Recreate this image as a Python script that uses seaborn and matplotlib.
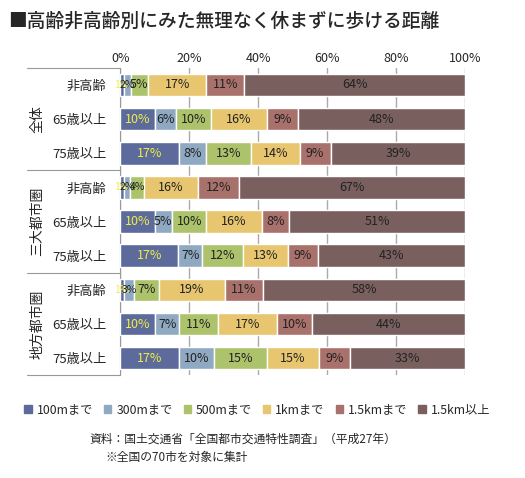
import numpy as np
import pandas as pd
import matplotlib.pyplot as plt
import seaborn as sns

sns.set_style("white")
plt.rcParams['font.family'] = ['Noto Sans CJK JP', 'DejaVu Sans']

groups = ['全体', '三大都市圏', '地方都市圏']
ages = ['非高齢', '65歳以上', '75歳以上']
bands = ['100mまで', '300mまで', '500mまで', '1kmまで', '1.5kmまで', '1.5km以上']
colors = ['#5d6b9c', '#8fa9c2', '#adc36b', '#e8c66f', '#a9716b', '#7a5f5f']
text_colors = ['#f2ee40', '#222222', '#222222', '#222222', '#222222', '#222222']

values = [
    [1, 2, 5, 17, 11, 64],
    [10, 6, 10, 16, 9, 48],
    [17, 8, 13, 14, 9, 39],
    [1, 2, 4, 16, 12, 67],
    [10, 5, 10, 16, 8, 51],
    [17, 7, 12, 13, 9, 43],
    [1, 3, 7, 19, 11, 58],
    [10, 7, 11, 17, 10, 44],
    [17, 10, 15, 15, 9, 33],
]

rows = []
for i, v in enumerate(values):
    for b, x in zip(bands, v):
        rows.append({'row': i, 'band': b, 'value': x})
df = pd.DataFrame(rows)

fig = plt.figure(figsize=(5.25, 4.78), dpi=100)
ax = fig.add_axes([0.229, 0.215, 0.657, 0.643])

left = np.zeros(len(values))
for j, b in enumerate(bands):
    sub = df[df.band == b].sort_values('row')
    w = sub.value.values / np.array([sum(v) for v in values]) * 100
    ax.barh(sub.row.values, w, left=left, height=0.66, color=colors[j], zorder=3)
    for r, (lv, wv, tv) in enumerate(zip(left, w, sub.value.values)):
        fs = 9 if wv >= 4 else 7.5
        ax.text(lv + wv / 2, r, f'{tv}%', ha='center', va='center', fontsize=fs,
                color=text_colors[j], zorder=4)
    left += w

ax.set_xlim(0, 100)
ax.set_ylim(8.5, -0.5)
ax.xaxis.tick_top()
ax.set_xticks(range(0, 101, 20))
ax.set_xticklabels([f'{t}%' for t in range(0, 101, 20)], fontsize=9)
ax.set_yticks(range(9))
ax.set_yticklabels(ages * 3, fontsize=9.5)
ax.tick_params(axis='y', length=0, pad=10)
ax.tick_params(axis='x', length=0, pad=2)
ax.grid(axis='x', color='#aaaaaa', lw=1, zorder=0)
for s in ['right', 'bottom', 'top']:
    ax.spines[s].set_visible(False)
ax.spines['left'].set_color('#999999')

for g, name in enumerate(groups):
    ax.text(-24, g * 3 + 1, name, rotation=90, ha='center', va='center', fontsize=10,
            transform=ax.transData, clip_on=False)
for y in [-0.5, 2.5, 5.5, 8.5]:
    ax.plot([-27, 0], [y, y], color='#999999', lw=0.8, clip_on=False)

fig.text(0.015, 0.955, '■高齢非高齢別にみた無理なく休まずに歩ける距離', fontsize=13.5,
         fontweight='medium', va='center')

handles = [plt.Rectangle((0, 0), 1, 1, color=c) for c in colors]
fig.legend(handles, bands, loc='center', bbox_to_anchor=(0.49, 0.142), ncol=6,
           frameon=False, fontsize=8.8, handlelength=0.6, handleheight=0.6,
           handletextpad=0.4, columnspacing=0.9)

fig.text(0.17, 0.075, '資料：国土交通省「全国都市交通特性調査」（平成27年）', fontsize=8.5)
fig.text(0.2, 0.035, '※全国の70市を対象に集計', fontsize=8.5)

fig.savefig('out.png', dpi=100)
